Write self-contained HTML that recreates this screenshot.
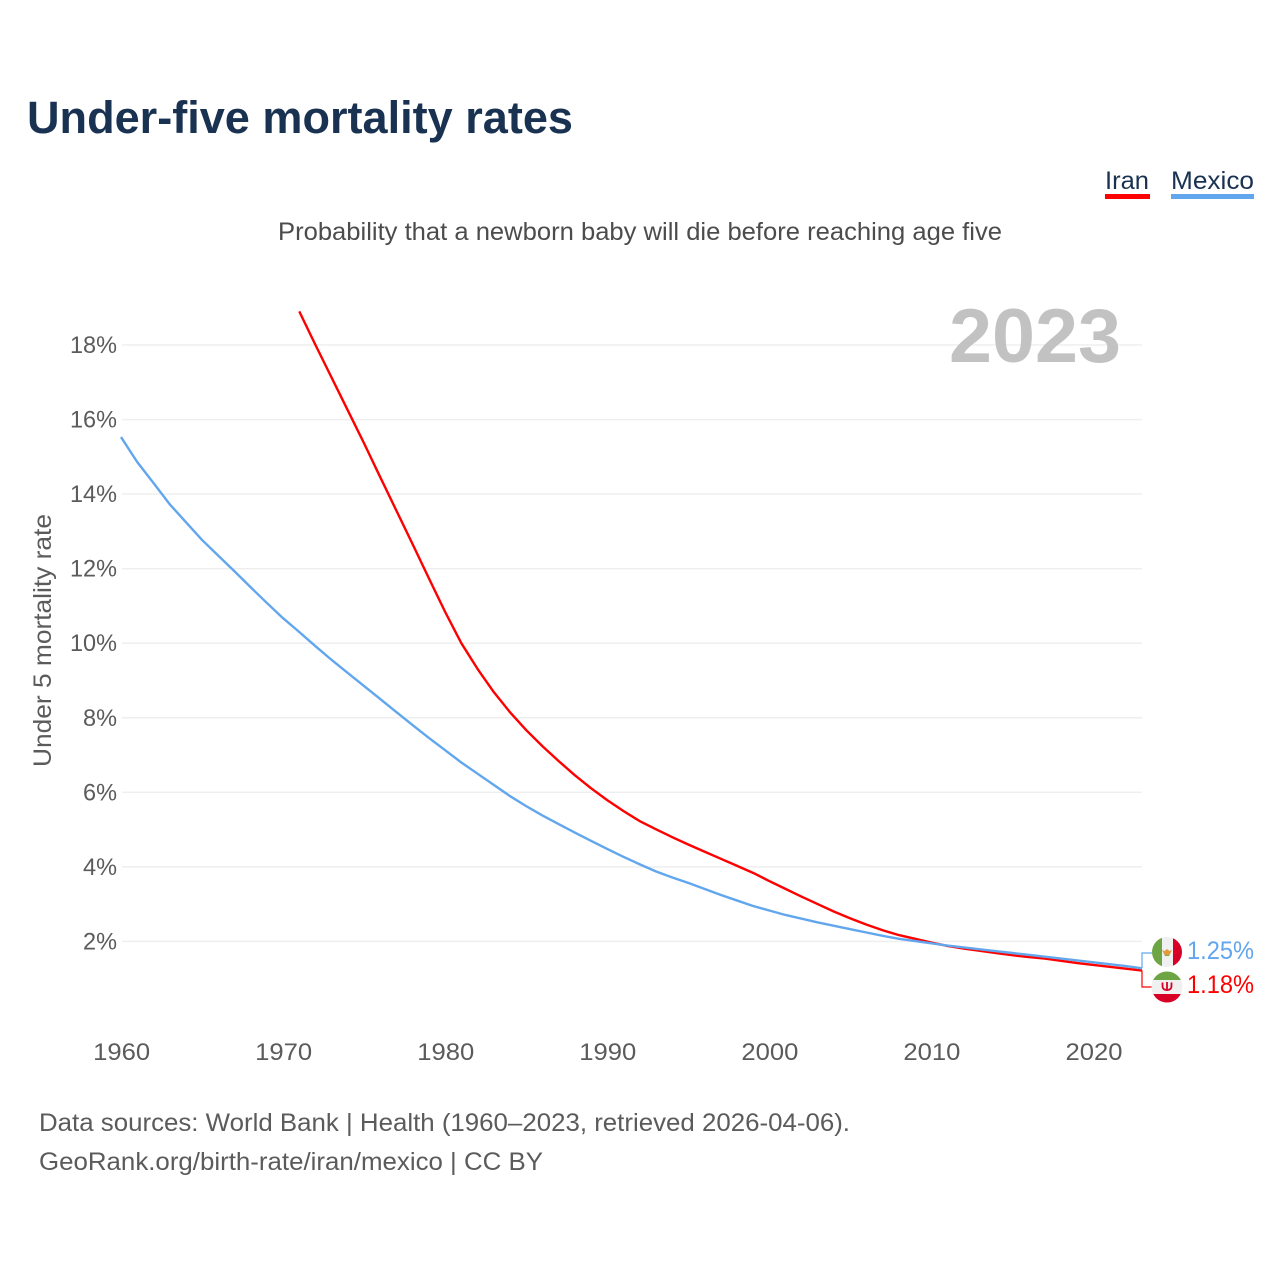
<!DOCTYPE html>
<html lang="en">
<head>
<meta charset="utf-8">
<title>Under-five mortality rates</title>
<style>
html,body{margin:0;padding:0;background:#fff;width:1280px;height:1280px;overflow:hidden}
svg{display:block}
text{font-family:"Liberation Sans",sans-serif}
</style>
</head>
<body>
<svg id="chart" width="1280" height="1280" viewBox="0 0 1280 1280" xmlns="http://www.w3.org/2000/svg">
  <rect x="0" y="0" width="1280" height="1280" fill="#fff"/>
  <text x="27" y="133" font-size="45" font-weight="700" fill="#1a3252" textLength="546" lengthAdjust="spacingAndGlyphs">Under-five mortality rates</text>
  <g>
    <g>
      <text x="1105" y="189" font-size="25" fill="#1a3252" textLength="44" lengthAdjust="spacingAndGlyphs">Iran</text>
      <rect x="1105" y="194" width="45" height="5" fill="#ff0000"/>
    </g>
    <g>
      <text x="1171" y="189" font-size="25" fill="#1a3252" textLength="83" lengthAdjust="spacingAndGlyphs">Mexico</text>
      <rect x="1171" y="194" width="83" height="5" fill="#62a6ee"/>
    </g>
  </g>
  <text x="278" y="240" font-size="25" fill="#4c4c4c" textLength="724" lengthAdjust="spacingAndGlyphs">Probability that a newborn baby will die before reaching age five</text>
  <g id="grid"></g>
  <text x="949" y="362" font-size="76" font-weight="700" fill="#c2c2c2" textLength="172" lengthAdjust="spacingAndGlyphs">2023</text>
  <g id="yticks"></g>
  <g id="xticks"></g>
  <text transform="translate(51,767) rotate(-90)" x="0" y="0" font-size="25" fill="#5b5b5b" textLength="253" lengthAdjust="spacingAndGlyphs">Under 5 mortality rate</text>
  <g id="series"></g>
  <path id="connector-mexico" fill="none" stroke="#62a6ee" stroke-width="1.2"/>
  <path id="connector-iran" fill="none" stroke="#ff0000" stroke-width="1.2"/>
  <defs>
    <clipPath id="clip-mx"><circle cx="1167" cy="952" r="15"/></clipPath>
    <clipPath id="clip-ir"><circle cx="1167" cy="987" r="15.5"/></clipPath>
  </defs>
  <g clip-path="url(#clip-mx)">
    <rect x="1152" y="937" width="10" height="30" fill="#6da544"/>
    <rect x="1162" y="937" width="11" height="30" fill="#f0f0f0"/>
    <rect x="1173" y="937" width="9" height="30" fill="#d80027"/>
    <path d="M1162 950 l2.500 1 l2.500 -2 l2.500 2 l2.500 -1 l-2 4 l-3 2 l-3 -2z" fill="#e39a3c"/>
    <path d="M1164 954 q3 3 6 0 l-1 2 h-4z" fill="#6da544"/>
  </g>
  <g clip-path="url(#clip-ir)">
    <rect x="1151" y="971" width="32" height="9" fill="#6da544"/>
    <rect x="1151" y="980" width="32" height="14" fill="#f0f0f0"/>
    <rect x="1151" y="994" width="32" height="10" fill="#d80027"/>
    <path d="M1162.500 982.500 v3.500 q0 4 4.500 4 q4.500 0 4.500 -4 v-3.500 M1167 982 v9" fill="none" stroke="#d80027" stroke-width="1.800"/>
  </g>
  <text x="1187" y="959" font-size="25" fill="#62a6ee" textLength="67" lengthAdjust="spacingAndGlyphs">1.25%</text>
  <text x="1187" y="993" font-size="25" fill="#ff0000" textLength="67" lengthAdjust="spacingAndGlyphs">1.18%</text>
  <text x="39" y="1131" font-size="25" fill="#5b5b5b" textLength="811" lengthAdjust="spacingAndGlyphs">Data sources: World Bank | Health (1960–2023, retrieved 2026-04-06).</text>
  <text x="39" y="1170" font-size="25" fill="#5b5b5b" textLength="504" lengthAdjust="spacingAndGlyphs">GeoRank.org/birth-rate/iran/mexico | CC BY</text>
</svg>
<script>
const years = [1960,1961,1962,1963,1964,1965,1966,1967,1968,1969,1970,1971,1972,1973,1974,1975,1976,1977,1978,1979,1980,1981,1982,1983,1984,1985,1986,1987,1988,1989,1990,1991,1992,1993,1994,1995,1996,1997,1998,1999,2000,2001,2002,2003,2004,2005,2006,2007,2008,2009,2010,2011,2012,2013,2014,2015,2016,2017,2018,2019,2020,2021,2022,2023];
const mexicoValues = [15.53,14.86,14.3,13.73,13.25,12.77,12.35,11.93,11.5,11.08,10.67,10.3,9.92,9.55,9.2,8.85,8.5,8.15,7.8,7.46,7.13,6.8,6.5,6.2,5.9,5.63,5.38,5.15,4.92,4.7,4.48,4.27,4.07,3.88,3.72,3.57,3.41,3.25,3.1,2.95,2.83,2.71,2.61,2.51,2.42,2.33,2.24,2.15,2.07,2.01,1.95,1.89,1.84,1.79,1.74,1.69,1.64,1.59,1.54,1.49,1.44,1.39,1.34,1.28];
const iranValues = [null,null,null,null,null,null,null,null,null,null,null,18.9,18.0,17.12,16.24,15.36,14.45,13.55,12.65,11.74,10.84,10.0,9.31,8.69,8.15,7.67,7.24,6.84,6.46,6.11,5.79,5.5,5.23,5.01,4.8,4.6,4.41,4.22,4.03,3.84,3.62,3.41,3.2,3.0,2.8,2.62,2.45,2.3,2.17,2.07,1.97,1.88,1.81,1.75,1.69,1.63,1.58,1.54,1.48,1.42,1.37,1.32,1.27,1.22];
const yTickValues = [2,4,6,8,10,12,14,16,18];
const yTickLabels = ["2%","4%","6%","8%","10%","12%","14%","16%","18%"];
const xTickValues = [1960,1970,1980,1990,2000,2010,2020];
const xTickLabels = ["1960","1970","1980","1990","2000","2010","2020"];

const NS = 'http://www.w3.org/2000/svg';
function xScale(year){ return 121 + (year - 1960) * (1142 - 121) / 63; }
function yScale(v){ return 1016 - v * 37.28; }

const grid = document.getElementById('grid');
const yticks = document.getElementById('yticks');
const xticks = document.getElementById('xticks');
const series = document.getElementById('series');

yTickValues.forEach(function(v, i){
  const line = document.createElementNS(NS, 'line');
  
  
  line.setAttribute('x1', 122);
  line.setAttribute('x2', 1142);
  line.setAttribute('y1', yScale(v));
  line.setAttribute('y2', yScale(v));
  line.setAttribute('stroke', '#eeeeee');
  line.setAttribute('stroke-width', '1.4');
  grid.appendChild(line);

  const t = document.createElementNS(NS, 'text');
  
  
  t.setAttribute('x', 117);
  t.setAttribute('y', yScale(v) + 8);
  t.setAttribute('text-anchor', 'end');
  t.setAttribute('font-size', '24');
  t.setAttribute('fill', '#5b5b5b');
  t.setAttribute('textLength', yTickLabels[i].length === 2 ? 34 : 47);
  t.setAttribute('lengthAdjust', 'spacingAndGlyphs');
  t.textContent = yTickLabels[i];
  yticks.appendChild(t);
});

xTickValues.forEach(function(v, i){
  const t = document.createElementNS(NS, 'text');
  
  
  t.setAttribute('x', xScale(v) + 0.6);
  t.setAttribute('y', 1060);
  t.setAttribute('text-anchor', 'middle');
  t.setAttribute('font-size', '24');
  t.setAttribute('fill', '#5b5b5b');
  t.setAttribute('textLength', 57);
  t.setAttribute('lengthAdjust', 'spacingAndGlyphs');
  t.textContent = xTickLabels[i];
  xticks.appendChild(t);
});

function linePath(values){
  let d = '';
  values.forEach(function(v, i){
    if (v === null) return;
    d += (d ? 'L' : 'M') + xScale(years[i]).toFixed(2) + ' ' + yScale(v).toFixed(2);
  });
  return d;
}

const iranLine = document.createElementNS(NS, 'path');


iranLine.setAttribute('d', linePath(iranValues));
iranLine.setAttribute('fill', 'none');
iranLine.setAttribute('stroke', '#ff0000');
iranLine.setAttribute('stroke-width', '2.4');
iranLine.setAttribute('stroke-linejoin', 'round');
series.appendChild(iranLine);

const mexicoLine = document.createElementNS(NS, 'path');


mexicoLine.setAttribute('d', linePath(mexicoValues));
mexicoLine.setAttribute('fill', 'none');
mexicoLine.setAttribute('stroke', '#62a6ee');
mexicoLine.setAttribute('stroke-width', '2.4');
mexicoLine.setAttribute('stroke-linejoin', 'round');
series.appendChild(mexicoLine);

const endX = xScale(years[years.length - 1]);
document.getElementById('connector-mexico').setAttribute('d', 'M' + endX + ' ' + yScale(mexicoValues[mexicoValues.length - 1]) + 'V953H1152');
document.getElementById('connector-iran').setAttribute('d', 'M' + endX + ' ' + yScale(iranValues[iranValues.length - 1]) + 'V987H1152');
</script>
</body>
</html>
